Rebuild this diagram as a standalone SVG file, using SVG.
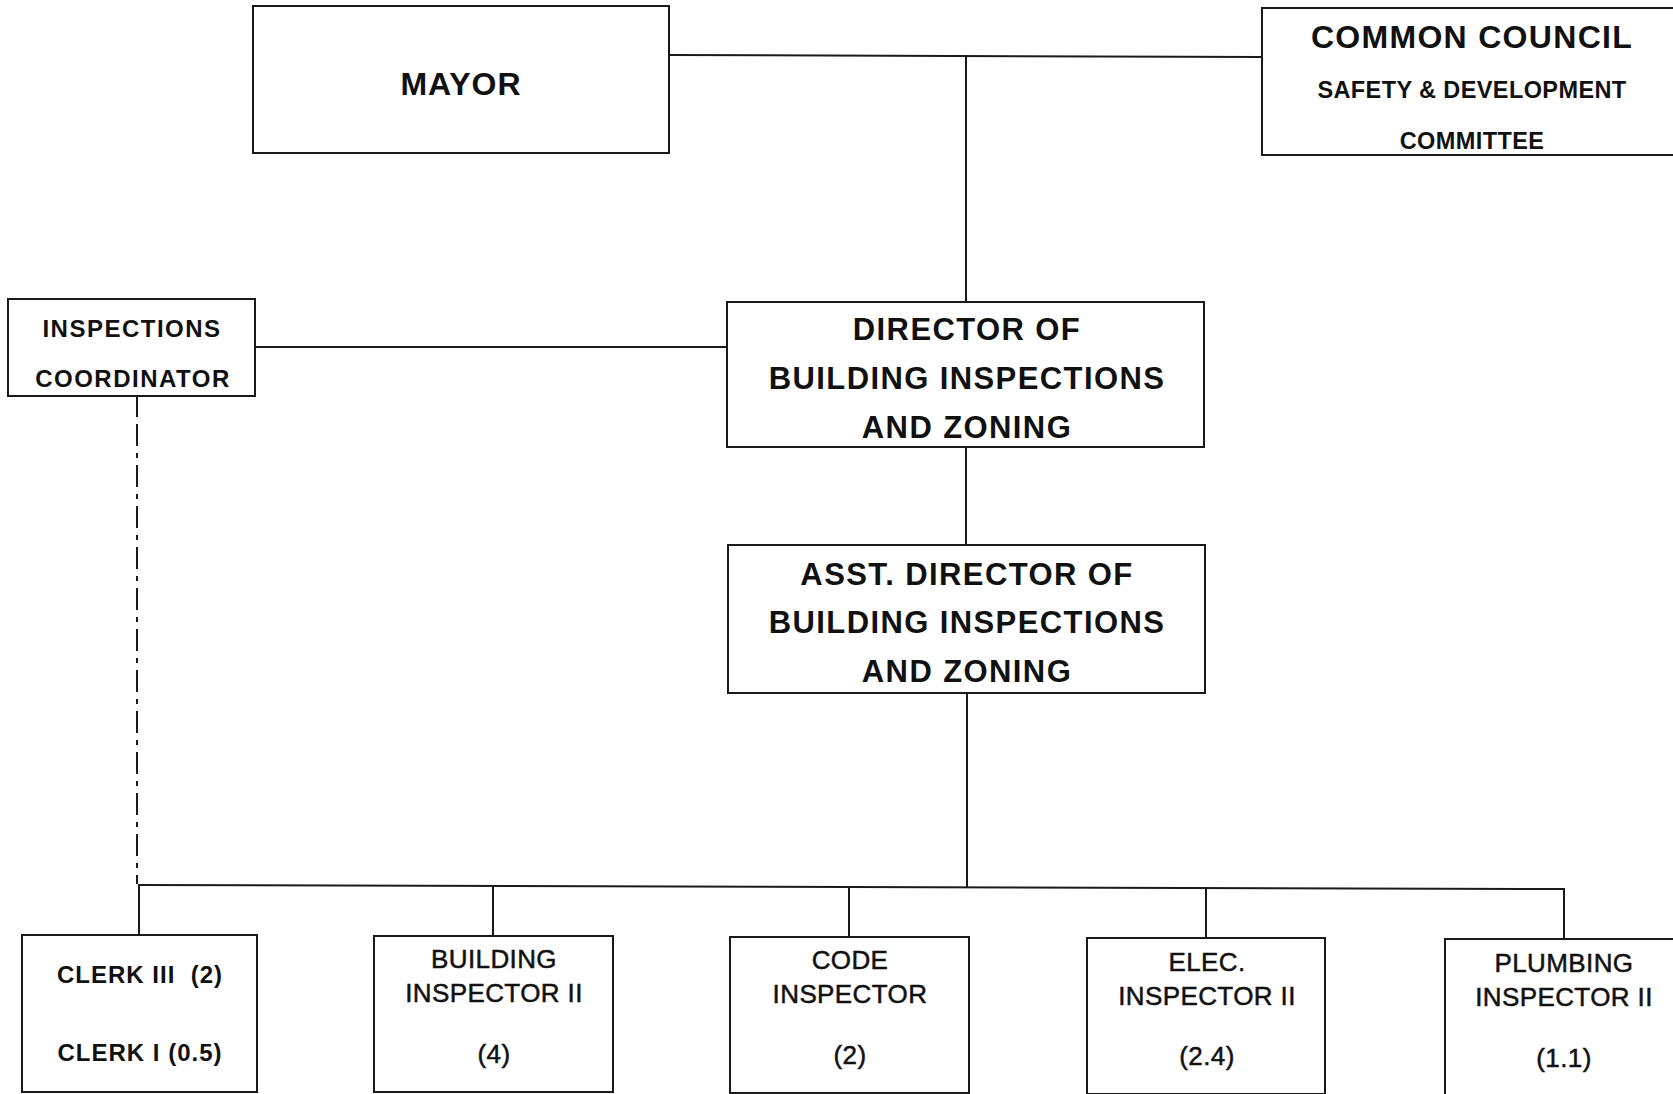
<svg xmlns="http://www.w3.org/2000/svg" width="1673" height="1094" viewBox="0 0 1673 1094">
<style>
.box{fill:#fff;stroke:#1a1a1a;stroke-width:2}
.ln{fill:none;stroke:#1a1a1a;stroke-width:2}
.dash{fill:none;stroke:#1a1a1a;stroke-width:2;stroke-dasharray:22 7 5 7}
text{font-family:"Liberation Sans",Arial,sans-serif;fill:#111;text-anchor:middle}
.b{font-weight:bold}
.t32{font-size:32px;letter-spacing:1px}
.t30{font-size:31px;letter-spacing:1.4px}
.tcc{font-size:32px;letter-spacing:1.3px}
.t23{font-size:23.5px;letter-spacing:0.4px}
.t22{font-size:24px;letter-spacing:1.5px}
.tcl{font-size:24px;letter-spacing:1px}
.t25{font-size:26px;letter-spacing:0.4px;stroke:#111;stroke-width:0.5px}
</style>
<rect width="1673" height="1094" fill="#fff"/>
<g id="connectors">
<line class="ln" x1="669" y1="55" x2="1262" y2="57"/>
<line class="ln" x1="966" y1="56" x2="966" y2="302"/>
<line class="ln" x1="255" y1="347" x2="727" y2="347"/>
<line class="ln" x1="966" y1="447" x2="966" y2="545"/>
<line class="ln" x1="967" y1="693" x2="967" y2="887"/>
<line class="ln" x1="137" y1="396" x2="137" y2="417"/>
<line class="dash" x1="137" y1="424" x2="137" y2="884"/>
<line class="ln" x1="138" y1="885" x2="1565" y2="889"/>
<line class="ln" x1="139" y1="885" x2="139" y2="935"/>
<line class="ln" x1="493" y1="886" x2="493" y2="936"/>
<line class="ln" x1="849" y1="887" x2="849" y2="937"/>
<line class="ln" x1="1206" y1="888" x2="1206" y2="938"/>
<line class="ln" x1="1564" y1="889" x2="1564" y2="939"/>
</g>
<g id="mayor">
<rect class="box" x="253" y="6" width="416" height="147"/>
<text class="b t32" x="461" y="95">MAYOR</text>
</g>
<g id="common-council">
<rect class="box" x="1262" y="8" width="420" height="147"/>
<text class="b tcc" x="1472" y="48">COMMON COUNCIL</text>
<text class="b t23" x="1472" y="98">SAFETY &amp; DEVELOPMENT</text>
<text class="b t23" x="1472" y="149">COMMITTEE</text>
</g>
<g id="inspections-coordinator">
<rect class="box" x="8" y="299" width="247" height="97"/>
<text class="b t22" x="132" y="337">INSPECTIONS</text>
<text class="b t22" x="133" y="387">COORDINATOR</text>
</g>
<g id="director">
<rect class="box" x="727" y="302" width="477" height="145"/>
<text class="b t30" x="967" y="340">DIRECTOR OF</text>
<text class="b t30" x="967" y="389">BUILDING INSPECTIONS</text>
<text class="b t30" x="967" y="438">AND ZONING</text>
</g>
<g id="asst-director">
<rect class="box" x="728" y="545" width="477" height="148"/>
<text class="b t30" x="967" y="585">ASST. DIRECTOR OF</text>
<text class="b t30" x="967" y="633">BUILDING INSPECTIONS</text>
<text class="b t30" x="967" y="682">AND ZONING</text>
</g>
<g id="clerks">
<rect class="box" x="22" y="935" width="235" height="157"/>
<text class="b tcl" x="140" y="983" xml:space="preserve">CLERK III  (2)</text>
<text class="b tcl" x="140" y="1061">CLERK I (0.5)</text>
</g>
<g id="building-inspector">
<rect class="box" x="374" y="936" width="239" height="156"/>
<text class="t25" x="494" y="968">BUILDING</text>
<text class="t25" x="494" y="1002">INSPECTOR II</text>
<text class="t25" x="494" y="1063">(4)</text>
</g>
<g id="code-inspector">
<rect class="box" x="730" y="937" width="239" height="156"/>
<text class="t25" x="850" y="969">CODE</text>
<text class="t25" x="850" y="1003">INSPECTOR</text>
<text class="t25" x="850" y="1064">(2)</text>
</g>
<g id="elec-inspector">
<rect class="box" x="1087" y="938" width="238" height="156"/>
<text class="t25" x="1207" y="971">ELEC.</text>
<text class="t25" x="1207" y="1005">INSPECTOR II</text>
<text class="t25" x="1207" y="1065">(2.4)</text>
</g>
<g id="plumbing-inspector">
<rect class="box" x="1445" y="939" width="240" height="160"/>
<text class="t25" x="1564" y="972">PLUMBING</text>
<text class="t25" x="1564" y="1006">INSPECTOR II</text>
<text class="t25" x="1564" y="1067">(1.1)</text>
</g>
</svg>
